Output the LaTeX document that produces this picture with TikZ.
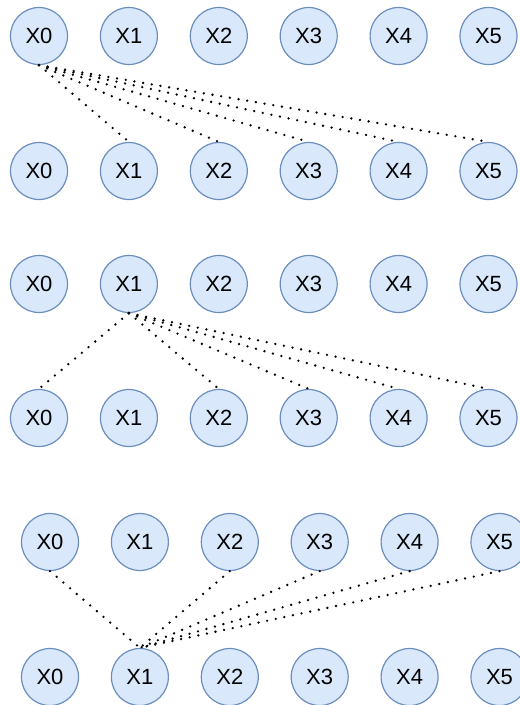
\documentclass[tikz,border=0pt]{standalone}
\usepackage{fontspec}
\setmainfont{Liberation Sans}
\definecolor{nodefill}{HTML}{DAE8FC}
\definecolor{nodeline}{HTML}{6C8EBF}
\begin{document}
\begin{tikzpicture}[x=1pt,y=-1pt,
  var/.style={circle,draw=nodeline,fill=nodefill,line width=1.2pt,minimum size=57pt,inner sep=0pt,
    font=\fontsize{22}{26}\selectfont},
  link/.style={line width=2.6pt,line cap=round,dash pattern=on 0pt off 8.8pt,black}]
\useasboundingbox (0,0) rectangle (520,705);
% six rows of variables X0..X5
\foreach \r/\y/\xo in {a/36/39, b/171/39, c/284/39, d/418/39, e/542/50, f/677/50}{
  \foreach \i in {0,...,5}{
    \node[var] (\r\i) at ({\xo+89.9*\i},\y) {X\i};
  }
}
% X0 to every other variable of the next row
\foreach \i in {1,...,5}{\draw[link] (a0.south) -- (b\i.north);}
% X1 to every other variable of the next row
\foreach \i in {0,2,3,4,5}{\draw[link] (c1.south) -- (d\i.north);}
% every other variable into X1
\foreach \i in {0,2,3,4,5}{\draw[link] (e\i.south) -- (f1.north);}
\end{tikzpicture}
\end{document}
